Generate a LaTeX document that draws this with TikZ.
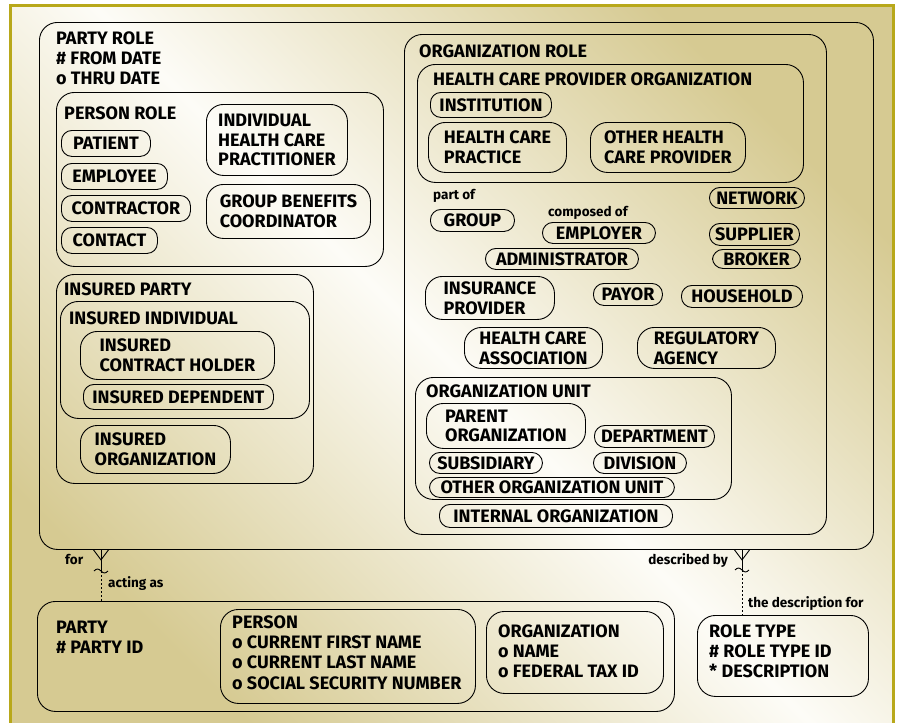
\documentclass[tikz,border=0pt]{standalone}
\usepackage{fontspec}
\setmainfont{Fira Sans}
\definecolor{frameolive}{RGB}{184,168,26}
\definecolor{khaki}{RGB}{214,202,146}
\definecolor{cream}{RGB}{253,252,247}
\def\txtsize{\fontsize{18}{19.7}\selectfont\bfseries}
\def\notesize{\fontsize{13.5}{15}\selectfont\bfseries}
\begin{document}
\begin{tikzpicture}[x=1pt, y=-1pt,
    every node/.style={font=\txtsize},
    box/.style={draw, line width=.9pt, anchor=north west, inner sep=0pt, rounded corners=18pt},
    pill/.style={box, rounded corners=10.5pt},
    pilltwo/.style={box, rounded corners=17pt, align=left},
    ttl/.style={anchor=base west, align=left, inner sep=0pt},
    note/.style={anchor=base west, inner sep=0pt, font=\notesize},
    conn/.style={line width=.9pt}]
      \useasboundingbox (0,0) rectangle (900,723);
      \shade[top color=khaki, bottom color=khaki, middle color=cream, shading angle=-45] (10,5) rectangle (893,723);
      \draw[frameolive, line width=3pt] (10,723) -- (10,5) -- (893,5) -- (893,723);
      \node[box, minimum width=834, minimum height=527] (partyrole) at (39,22) {};
      \node[ttl] (partyroletitle) at (56,84) {PARTY ROLE\\\# FROM DATE\\o THRU DATE};
      \node[box, minimum width=327, minimum height=174] (personrole) at (56,92) {};
      \node[ttl] (personroletitle) at (64,119) {PERSON ROLE};
      \node[pill, minimum width=89, minimum height=26] (patient) at (61,130) {PATIENT};
      \node[pill, minimum width=106, minimum height=26] (employee) at (61,163) {EMPLOYEE};
      \node[pill, minimum width=129, minimum height=26] (contractor) at (61,195) {CONTRACTOR};
      \node[pill, minimum width=96, minimum height=26] (contact) at (61,227) {CONTACT};
      \node[pilltwo, minimum width=141, minimum height=71] (practitioner) at (206,104) {INDIVIDUAL\\HEALTH CARE\\PRACTITIONER};
      \node[pilltwo, minimum width=164, minimum height=54] (coordinator) at (206,184) {GROUP BENEFITS\\COORDINATOR};
      \node[box, minimum width=257, minimum height=209] (insuredparty) at (56,274) {};
      \node[ttl] (insuredpartytitle) at (64,295) {INSURED PARTY};
      \node[box, minimum width=249, minimum height=117] (insuredindiv) at (60,301) {};
      \node[ttl] (insuredindivtitle) at (69,324) {INSURED INDIVIDUAL};
      \node[pilltwo, minimum width=194, minimum height=48] (holder) at (80,331) {INSURED\\CONTRACT HOLDER};
      \node[pill, minimum width=190, minimum height=25] (dependent) at (83,384) {INSURED DEPENDENT};
      \node[pilltwo, minimum width=150, minimum height=48] (insuredorg) at (80,425) {INSURED\\ORGANIZATION};
      \node[box, minimum width=422, minimum height=500] (orgrole) at (404,34) {};
      \node[ttl] (orgroletitle) at (419,57) {ORGANIZATION ROLE};
      \node[box, minimum width=386, minimum height=118] (hcpo) at (417,64) {};
      \node[ttl] (hcpotitle) at (433,85) {HEALTH CARE PROVIDER ORGANIZATION};
      \node[pill, minimum width=121, minimum height=25] (institution) at (430,92) {INSTITUTION};
      \node[pilltwo, minimum width=138, minimum height=50] (practice) at (428,122) {HEALTH CARE\\PRACTICE};
      \node[pilltwo, minimum width=155, minimum height=50] (otherhcp) at (590,122) {OTHER HEALTH\\CARE PROVIDER};
      \node[note] (partof) at (433,199) {part of};
      \node[pill, minimum width=95, minimum height=21] (network) at (709,187) {NETWORK};
      \node[pill, minimum width=84, minimum height=22] (group) at (430,209) {GROUP};
      \node[note] (composedof) at (548,216) {composed of};
      \node[pill, minimum width=113, minimum height=21] (employer) at (542,222) {EMPLOYER};
      \node[pill, minimum width=90, minimum height=22] (supplier) at (709,223) {SUPPLIER};
      \node[pill, minimum width=153, minimum height=21] (administrator) at (485,248) {ADMINISTRATOR};
      \node[pill, minimum width=88, minimum height=19] (broker) at (712,249) {BROKER};
      \node[pilltwo, minimum width=129, minimum height=43] (insprovider) at (425,276) {INSURANCE\\PROVIDER};
      \node[pill, minimum width=69, minimum height=22] (payor) at (593,283) {PAYOR};
      \node[pill, minimum width=121, minimum height=22] (household) at (681,285) {HOUSEHOLD};
      \node[pilltwo, minimum width=138, minimum height=41] (association) at (464,327) {HEALTH CARE\\ASSOCIATION};
      \node[pilltwo, minimum width=138, minimum height=41] (regulatory) at (637,327) {REGULATORY\\AGENCY};
      \node[box, minimum width=316, minimum height=122] (orgunit) at (415,377) {};
      \node[ttl] (orgunittitle) at (426,397) {ORGANIZATION UNIT};
      \node[pilltwo, minimum width=159, minimum height=45] (parentorg) at (426,403) {PARENT\\ORGANIZATION};
      \node[pill, minimum width=120, minimum height=22] (department) at (594,425) {DEPARTMENT};
      \node[pill, minimum width=113, minimum height=21] (subsidiary) at (429,452) {SUBSIDIARY};
      \node[pill, minimum width=93, minimum height=21] (division) at (593,452) {DIVISION};
      \node[pill, minimum width=245, minimum height=20] (otherunit) at (429,477) {OTHER ORGANIZATION UNIT};
      \node[pill, minimum width=233, minimum height=23] (internal) at (439,504) {INTERNAL ORGANIZATION};
      \node[box, minimum width=637, minimum height=110] (party) at (37,601) {};
      \node[ttl] (partytitle) at (56,653) {PARTY\\\# PARTY ID};
      \node[box, minimum width=255, minimum height=94] (person) at (220,609) {};
      \node[ttl, font=\fontsize{18}{20.3}\selectfont\bfseries] (persontitle) at (232,689) {PERSON\\o CURRENT FIRST NAME\\o CURRENT LAST NAME\\o SOCIAL SECURITY NUMBER};
      \node[box, minimum width=177, minimum height=82] (organization) at (486,611) {};
      \node[ttl] (organizationtitle) at (498,677) {ORGANIZATION\\o NAME\\o FEDERAL TAX ID};
      \node[box, minimum width=171, minimum height=81] (roletype) at (697,615) {};
      \node[ttl] (roletypetitle) at (709,677) {ROLE TYPE\\\# ROLE TYPE ID\\* DESCRIPTION};
      \coordinate (forlink) at (101,571);
      \coordinate (desclink) at (742,570);
      \draw[conn] (forlink |- partyrole.south) -- (forlink);
      \draw[conn] (forlink |- partyrole.south) ++(-7.5,0) -- ++(7.5,10) -- ++(7.5,-10);
      \draw[conn] (forlink) ++(-7,0) sin ++(3.5,-2) cos ++(3.5,2) sin ++(3.5,2) cos ++(3.5,-2);
      \draw[conn, dash pattern=on 2pt off 2pt] (forlink) -- (forlink |- party.north);
      \draw[conn] (desclink |- partyrole.south) -- (desclink);
      \draw[conn] (desclink |- partyrole.south) ++(-7.5,0) -- ++(7.5,10) -- ++(7.5,-10);
      \draw[conn] (desclink) ++(-7,0) sin ++(3.5,-2) cos ++(3.5,2) sin ++(3.5,2) cos ++(3.5,-2);
      \draw[conn, dash pattern=on 2pt off 2pt] (desclink) -- (desclink |- roletype.north);
      \node[note] (fortxt) at (65,564) {for};
      \node[note] (actingas) at (108,587) {acting as};
      \node[note, anchor=base east] (describedby) at (728,564) {described by};
      \node[note] (descfor) at (748,607) {the description for};
    \end{tikzpicture}
\end{document}
